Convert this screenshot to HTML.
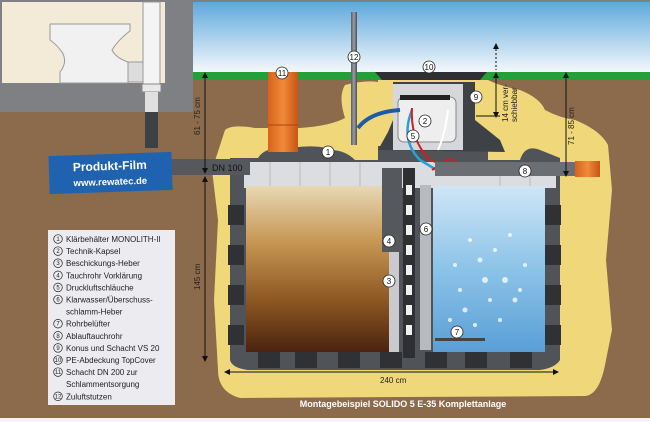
<!DOCTYPE html>
<html><head><meta charset="utf-8"><style>
html,body{margin:0;padding:0;background:#fff}
svg{display:block}
text{font-family:"Liberation Sans",sans-serif}
</style></head><body>
<svg width="650" height="422" viewBox="0 0 650 422" xmlns="http://www.w3.org/2000/svg">
<defs>
<linearGradient id="sky" x1="0" y1="0" x2="0" y2="1"><stop offset="0" stop-color="#5aa6dc"/><stop offset="1" stop-color="#f4f8fb"/></linearGradient>
<linearGradient id="sludge" x1="0" y1="0" x2="0" y2="1"><stop offset="0" stop-color="#e8d8b4"/><stop offset="0.35" stop-color="#c59450"/><stop offset="0.7" stop-color="#8a5522"/><stop offset="1" stop-color="#4a2410"/></linearGradient>
<linearGradient id="water" x1="0" y1="0" x2="0" y2="1"><stop offset="0" stop-color="#cfe6f6"/><stop offset="0.5" stop-color="#8cc3e8"/><stop offset="1" stop-color="#5a9fd6"/></linearGradient>
<linearGradient id="pipeG" x1="0" y1="0" x2="1" y2="0"><stop offset="0" stop-color="#5a5d62"/><stop offset="0.5" stop-color="#9a9ea4"/><stop offset="1" stop-color="#4a4d52"/></linearGradient>
<linearGradient id="orng" x1="0" y1="0" x2="1" y2="0"><stop offset="0" stop-color="#d8621a"/><stop offset="0.5" stop-color="#f08a3a"/><stop offset="1" stop-color="#c85514"/></linearGradient>
</defs>
<rect x="0" y="0" width="650" height="422" fill="#8c6a4c"/>
<rect x="193" y="0" width="457" height="72" fill="url(#sky)"/>
<rect x="193" y="72" width="457" height="8" fill="#23a03a"/>
<rect x="0" y="0" width="650" height="2" fill="#808080"/>
<!-- house -->
<rect x="0" y="0" width="193" height="112" fill="#7e8083"/>
<rect x="2" y="2" width="163" height="81" fill="#f3ead8"/>
<path d="M50 24 H130 V31 Q118 40 112 50 Q116 58 128 62 V72 H128 V83 H60 V72 Q68 62 62 52 Q56 44 50 40 Z" fill="#f1f1f1" stroke="#999" stroke-width="1"/>
<rect x="128" y="62" width="16" height="20" fill="#ddd" stroke="#999"/>
<rect x="143" y="2" width="17" height="82" fill="#f4f4f4" stroke="#999"/>
<rect x="142" y="84" width="19" height="8" fill="#e8e8e8" stroke="#888"/>
<rect x="145" y="92" width="13" height="20" fill="#e0e0e0"/>
<rect x="145" y="112" width="13" height="36" fill="#3d4044"/>
<!-- sand -->
<path d="M225 130 Q232 124 255 128 L268 128 L300 128 Q330 126 345 118 Q338 96 345 85 Q365 80 378 82 L378 80 L488 80 Q500 86 520 90 Q540 98 545 110 Q560 118 575 120 Q600 130 608 145 L612 190 L606 260 L612 330 L606 360 Q600 395 585 396 L240 398 Q218 392 218 370 L214 300 L218 220 L212 170 Z" fill="#efd77a"/>
<!-- tank body -->
<path d="M230 158 H258 Q265 146 290 148 Q320 144 330 150 Q345 150 355 160 L378 160 L378 146 L488 146 L488 160 L520 160 Q525 144 540 150 L560 158 V360 Q555 368 540 370 H248 Q232 368 230 360 Z" fill="#505357"/>
<rect x="244" y="162" width="312" height="26" fill="#dcdde0"/>
<g stroke="#bbb" stroke-width="1"><line x1="270" y1="162" x2="270" y2="188"/><line x1="300" y1="162" x2="300" y2="188"/><line x1="330" y1="162" x2="330" y2="188"/><line x1="360" y1="162" x2="360" y2="188"/><line x1="500" y1="162" x2="500" y2="188"/><line x1="530" y1="162" x2="530" y2="188"/></g>
<rect x="246" y="186" width="152" height="166" fill="url(#sludge)"/>
<rect x="433" y="186" width="112" height="166" fill="url(#water)"/>
<g fill="#fff" opacity="0.75">
<circle cx="470" cy="240" r="2"/><circle cx="480" cy="260" r="2.5"/><circle cx="495" cy="250" r="2"/><circle cx="505" cy="280" r="3"/><circle cx="490" cy="300" r="2"/><circle cx="460" cy="290" r="2"/><circle cx="515" cy="300" r="2.5"/><circle cx="450" cy="320" r="2"/><circle cx="475" cy="325" r="2"/><circle cx="525" cy="265" r="2"/><circle cx="500" cy="320" r="2"/><circle cx="455" cy="265" r="2"/><circle cx="485" cy="280" r="3"/><circle cx="520" cy="290" r="2"/><circle cx="465" cy="310" r="2.5"/><circle cx="510" cy="235" r="2"/>
</g>
<g fill="#2f3135">
<rect x="228" y="205" width="16" height="20"/><rect x="228" y="245" width="16" height="20"/><rect x="228" y="285" width="16" height="20"/><rect x="228" y="325" width="16" height="20"/>
<rect x="545" y="205" width="16" height="20"/><rect x="545" y="245" width="16" height="20"/><rect x="545" y="285" width="16" height="20"/><rect x="545" y="325" width="16" height="20"/>
<rect x="258" y="352" width="22" height="16"/><rect x="295" y="352" width="22" height="16"/><rect x="338" y="352" width="22" height="16"/><rect x="380" y="352" width="22" height="16"/><rect x="425" y="352" width="22" height="16"/><rect x="465" y="352" width="22" height="16"/><rect x="510" y="352" width="22" height="16"/>
</g>
<!-- inlet pipe (over tank) -->
<rect x="162" y="159" width="88" height="16" fill="#55585d"/>
<text x="212" y="171" font-size="9" fill="#111">DN 100</text>
<!-- center column -->
<rect x="382" y="168" width="20" height="84" fill="#55585d"/>
<rect x="389" y="252" width="10" height="100" fill="#c8cacd"/>
<rect x="403" y="168" width="12" height="190" fill="#2d2f33"/>
<g fill="#f0f0f0"><rect x="406" y="185" width="6" height="10"/><rect x="406" y="205" width="6" height="10"/><rect x="406" y="225" width="6" height="10"/><rect x="406" y="245" width="6" height="10"/><rect x="406" y="265" width="6" height="10"/><rect x="406" y="285" width="6" height="10"/><rect x="406" y="305" width="6" height="10"/><rect x="406" y="325" width="6" height="10"/></g>
<rect x="420" y="185" width="11" height="165" fill="#b7babe"/>
<rect x="435" y="338" width="50" height="3" fill="#444"/>
<!-- riser -->
<path d="M378 150 L388 132 L393 120 L393 82 L475 82 L475 120 L500 140 L505 152 Z" fill="#3e4145"/>
<rect x="393" y="84" width="70" height="66" fill="#d6d7da"/>
<rect x="398" y="97" width="58" height="45" rx="6" fill="#eeeeef" stroke="#888"/>
<rect x="400" y="95" width="50" height="5" fill="#222"/>
<path d="M375 72 H487 L480 80 H382 Z" fill="#2e3034"/>
<path d="M358 128 Q370 112 400 110" stroke="#1f5aa8" stroke-width="4" fill="none"/>
<path d="M412 110 Q400 140 420 160 L440 172" stroke="#2aa0d6" stroke-width="2.5" fill="none"/>
<path d="M412 108 Q410 140 430 160 Q450 168 455 162 Q450 155 440 165 L432 170" stroke="#d02020" stroke-width="2" fill="none"/>
<path d="M448 110 Q445 135 438 150" stroke="#fff" stroke-width="2" fill="none"/>
<rect x="435" y="162" width="145" height="14" fill="#6b6e72"/>
<rect x="575" y="161" width="25" height="16" fill="url(#orng)"/>
<rect x="268" y="72" width="30" height="80" fill="url(#orng)"/>
<line x1="268" y1="125" x2="298" y2="125" stroke="#a84410"/>
<rect x="351" y="12" width="6" height="133" fill="url(#pipeG)"/>
<g font-size="8" text-anchor="middle" fill="#111">
<g fill="#fff" stroke="#222" stroke-width="0.8"><circle cx="282" cy="73" r="6"/><circle cx="354" cy="57" r="6"/><circle cx="429" cy="67" r="6"/><circle cx="476" cy="97" r="6"/><circle cx="425" cy="121" r="6"/><circle cx="413" cy="136" r="6"/><circle cx="328" cy="152" r="6"/><circle cx="525" cy="171" r="6"/><circle cx="389" cy="241" r="6"/><circle cx="426" cy="229" r="6"/><circle cx="389" cy="281" r="6"/><circle cx="457" cy="332" r="6"/></g>
<text x="282" y="76">11</text><text x="354" y="60">12</text><text x="429" y="70">10</text><text x="476" y="100">9</text><text x="425" y="124">2</text><text x="413" y="139">5</text><text x="328" y="155">1</text><text x="525" y="174">8</text><text x="389" y="244">4</text><text x="426" y="232">6</text><text x="389" y="284">3</text><text x="457" y="335">7</text>
</g>
<g stroke="#111" stroke-width="1" fill="none">
<line x1="205" y1="74" x2="205" y2="172"/><line x1="205" y1="178" x2="205" y2="360"/>
<line x1="566" y1="74" x2="566" y2="175"/>
<line x1="496" y1="74" x2="496" y2="116"/><line x1="496" y1="45" x2="496" y2="70" stroke-dasharray="2,2"/><line x1="476" y1="116" x2="500" y2="116"/>
<line x1="226" y1="372" x2="557" y2="372"/>
</g>
<g fill="#111"><path d="M202 78 L205 72 L208 78Z"/><path d="M202 168 L205 174 L208 168Z"/><path d="M202 182 L205 176 L208 182Z"/><path d="M202 356 L205 362 L208 356Z"/><path d="M563 78 L566 72 L569 78Z"/><path d="M563 171 L566 177 L569 171Z"/><path d="M493 78 L496 72 L499 78Z"/><path d="M493 112 L496 118 L499 112Z"/><path d="M493 49 L496 43 L499 49Z"/><path d="M230 369 L224 372 L230 375Z"/><path d="M553 369 L559 372 L553 375Z"/></g>
<g font-size="8" fill="#222">
<text transform="translate(200,135) rotate(-90)">61 - 75 cm</text>
<text transform="translate(200,290) rotate(-90)">145 cm</text>
<text transform="translate(574,145) rotate(-90)">71 - 85 cm</text>
<text transform="translate(508,122) rotate(-90)">14 cm ver-</text>
<text transform="translate(517,122) rotate(-90)">schiebbar</text>
<text x="380" y="383">240 cm</text>
</g>
<g transform="rotate(-2 110 172)">
<rect x="49" y="154" width="123" height="38" fill="#1f62b0"/>
<text x="110" y="170" font-size="12" font-weight="bold" fill="#fff" text-anchor="middle">Produkt-Film</text>
<text x="110" y="185" font-size="9.5" font-weight="bold" fill="#fff" text-anchor="middle">www.rewatec.de</text>
</g>
<!-- legend -->
<rect x="48" y="230" width="127" height="175" fill="#ececf0"/>
<g fill="none" stroke="#222" stroke-width="0.7">
<circle cx="58" cy="239" r="4.3"/><circle cx="58" cy="251.1" r="4.3"/><circle cx="58" cy="263.2" r="4.3"/><circle cx="58" cy="275.3" r="4.3"/><circle cx="58" cy="287.4" r="4.3"/><circle cx="58" cy="299.5" r="4.3"/><circle cx="58" cy="323.7" r="4.3"/><circle cx="58" cy="335.8" r="4.3"/><circle cx="58" cy="347.9" r="4.3"/><circle cx="58" cy="360" r="4.3"/><circle cx="58" cy="372.1" r="4.3"/><circle cx="58" cy="396.3" r="4.3"/></g>
<g font-size="6" text-anchor="middle" fill="#222"><text x="58" y="241">1</text><text x="58" y="253.1">2</text><text x="58" y="265.2">3</text><text x="58" y="277.3">4</text><text x="58" y="289.4">5</text><text x="58" y="301.5">6</text><text x="58" y="325.7">7</text><text x="58" y="337.8">8</text><text x="58" y="349.9">9</text><text x="58" y="362">10</text><text x="58" y="374.1">11</text><text x="58" y="398.3">12</text></g>
<g font-size="8" fill="#222">
<text x="66" y="242">Klärbehälter MONOLITH-II</text>
<text x="66" y="254.1">Technik-Kapsel</text>
<text x="66" y="266.2">Beschickungs-Heber</text>
<text x="66" y="278.3">Tauchrohr Vorklärung</text>
<text x="66" y="290.4">Druckluftschläuche</text>
<text x="66" y="302.5">Klarwasser/Überschuss-</text>
<text x="66" y="314.6">schlamm-Heber</text>
<text x="66" y="326.7">Rohrbelüfter</text>
<text x="66" y="338.8">Ablauftauchrohr</text>
<text x="66" y="350.9">Konus und Schacht VS 20</text>
<text x="66" y="363">PE-Abdeckung TopCover</text>
<text x="66" y="375.1">Schacht DN 200 zur</text>
<text x="66" y="387.2">Schlammentsorgung</text>
<text x="66" y="399.3">Zuluftstutzen</text>
</g>
<text x="403" y="407" font-size="9" font-weight="bold" fill="#fff" text-anchor="middle">Montagebeispiel SOLIDO 5 E-35 Komplettanlage</text>
<rect x="0" y="418" width="650" height="4" fill="#f4f4f4"/>
</svg>
</body></html>
